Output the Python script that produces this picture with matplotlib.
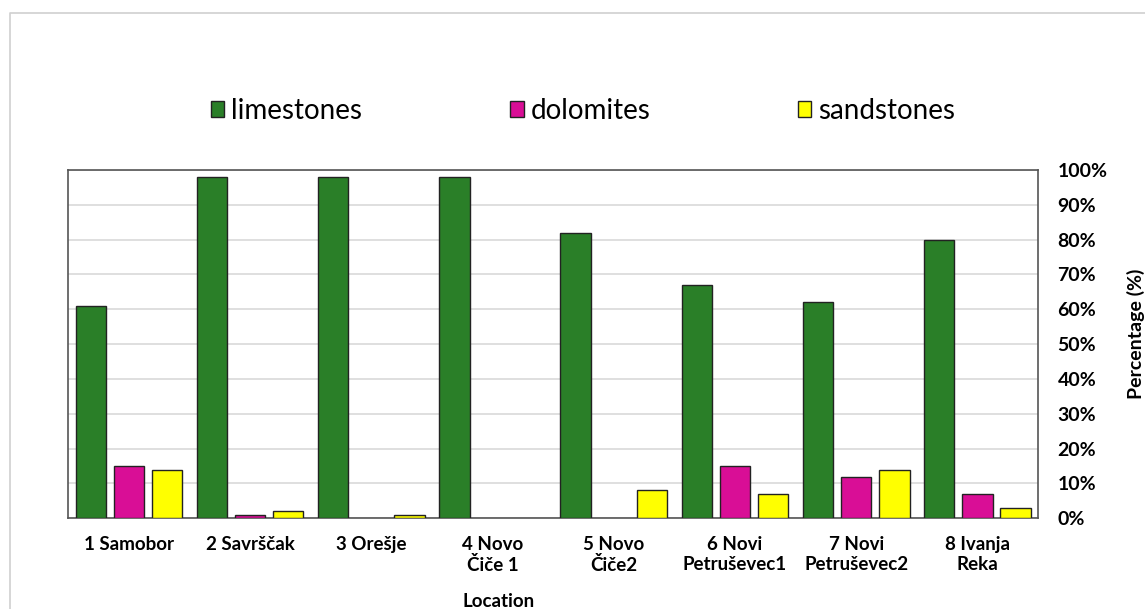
import numpy as np
import matplotlib
matplotlib.use("Agg")
import matplotlib.pyplot as plt
from matplotlib.lines import Line2D
from matplotlib.patches import Patch

# podaci
locations = ["1 Samobor", "2 Savrščak", "3 Orešje", "4 Novo\nČiče 1", "5 Novo\nČiče2",
             "6 Novi\nPetruševec1", "7 Novi\nPetruševec2", "8 Ivanja\nReka"]
limestones = [61, 98, 98, 98, 82, 67, 62, 80]
dolomites = [15, 1, 0, 0, 0, 15, 12, 7]
sandstones = [14, 2, 1, 0, 8, 7, 14, 3]
yticks = [0, 10, 20, 30, 40, 50, 60, 70, 80, 90, 100]

series = [("limestones", limestones, "#2a7f28"),
          ("dolomites", dolomites, "#d90e96"),
          ("sandstones", sandstones, "#ffff00")]

plt.rcParams['font.family'] = ['Lato', 'DejaVu Sans']

fig = plt.figure(figsize=(11.45, 6.09), dpi=100)
ax = fig.add_axes([68.3 / 1145, 90.7 / 609, 969.7 / 1145, 348.3 / 609])

x = np.arange(len(locations))
offsets = [-0.315, 0, 0.315]
for (name, vals, col), off in zip(series, offsets):
    v = np.array(vals, dtype=float)
    mask = v > 0
    ax.bar(x[mask] + off, v[mask], width=0.25, color=col, edgecolor="#222222",
           linewidth=1.0, zorder=3)

ax.set_xlim(-0.5, len(locations) - 0.5)
ax.set_ylim(0, 100)
ax.set_yticks(yticks)
ax.set_yticklabels([f"{t}%" for t in yticks], fontweight="bold", fontsize=14)
ax.yaxis.tick_right()
ax.yaxis.set_label_position("right")
ax.tick_params(axis="y", length=0, pad=14)
ax.set_xticks(x)
ax.set_xticklabels(locations, fontweight="bold", fontsize=13.5, linespacing=1.2)
ax.tick_params(axis="x", length=0, pad=13)
ax.grid(axis="y", color="#d9d9d9", linewidth=1.2, zorder=0)
for s in ax.spines.values():
    s.set_color("#555555")
    s.set_linewidth(1.2)

ax.set_ylabel("Percentage (%)", fontweight="bold", fontsize=14, labelpad=9)
ax.yaxis.set_label_coords(1.092, 0.53)
ax.set_xlabel("Location", fontweight="bold", fontsize=13.5)
ax.xaxis.set_label_coords((499 - 68.3) / 969.7, -0.215)

handles = [Patch(facecolor=c, edgecolor="#222222", linewidth=1.0) for _, _, c in series]
fig.legend(handles, [n for n, _, _ in series], loc="center",
           bbox_to_anchor=(583 / 1145, 1 - 111 / 609), ncol=3, frameon=False,
           fontsize=20, handlelength=0.5, handleheight=0.5, handletextpad=0.25,
           columnspacing=5.3)

# okvir grafikona
fig.add_artist(Line2D([10 / 1145, 10 / 1145, 1], [0, 1 - 13 / 609, 1 - 13 / 609],
                      transform=fig.transFigure, color="#d0d0d0", linewidth=1.2))

fig.savefig("out.png", dpi=100)
